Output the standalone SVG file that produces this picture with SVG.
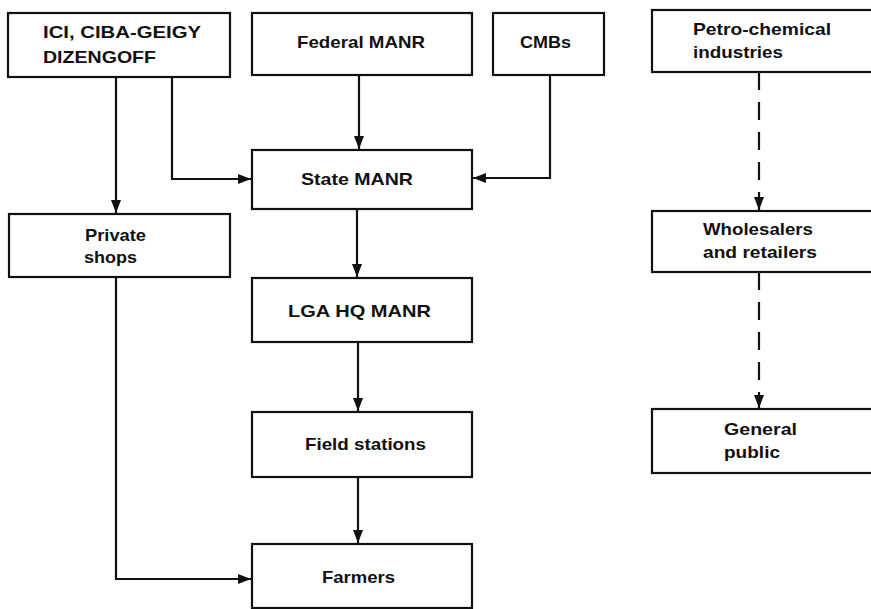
<svg xmlns="http://www.w3.org/2000/svg" width="871" height="609" viewBox="0 0 871 609">
  <style>
    .box { fill: #ffffff; stroke: #111111; stroke-width: 2.2; }
    .lbl { font-family: "Liberation Sans", Arial, sans-serif; font-size: 17px; font-weight: bold; fill: #111111; }
    .flow { fill: none; stroke: #111111; stroke-width: 2.2; }
    .dash { stroke-dasharray: 18 12; }
  </style>
  <defs>
    <marker id="arrow" viewBox="0 0 13 10" refX="13" refY="5" markerWidth="13" markerHeight="10" markerUnits="userSpaceOnUse" orient="auto">
      <path d="M0,0 L13,5 L0,10 Z" fill="#111111"/>
    </marker>
  </defs>
  <rect width="871" height="609" fill="#ffffff"/>

  <g id="connectors">
    <path class="flow" d="M116,77 V213" marker-end="url(#arrow)"/>
    <path class="flow" d="M172,77 V179 H251" marker-end="url(#arrow)"/>
    <path class="flow" d="M359,75 V149" marker-end="url(#arrow)"/>
    <path class="flow" d="M550,75 V178 H473" marker-end="url(#arrow)"/>
    <path class="flow" d="M357,209 V277" marker-end="url(#arrow)"/>
    <path class="flow" d="M358,342 V411" marker-end="url(#arrow)"/>
    <path class="flow" d="M358,477 V543" marker-end="url(#arrow)"/>
    <path class="flow" d="M116,277 V579 H251" marker-end="url(#arrow)"/>
    <path class="flow dash" d="M759,72 V210" marker-end="url(#arrow)"/>
    <path class="flow dash" d="M759,272 V408" marker-end="url(#arrow)"/>
  </g>

  <g id="node-ici">
    <rect class="box" x="8" y="13" width="222" height="64"/>
    <text class="lbl" x="43" y="38" textLength="158" lengthAdjust="spacingAndGlyphs">ICI, CIBA-GEIGY</text>
    <text class="lbl" x="43" y="63" textLength="113" lengthAdjust="spacingAndGlyphs">DIZENGOFF</text>
  </g>

  <g id="node-federal">
    <rect class="box" x="252" y="13" width="220" height="62"/>
    <text class="lbl" x="297" y="48" textLength="128" lengthAdjust="spacingAndGlyphs">Federal MANR</text>
  </g>

  <g id="node-cmbs">
    <rect class="box" x="493" y="13" width="111" height="62"/>
    <text class="lbl" x="520" y="48" textLength="51" lengthAdjust="spacingAndGlyphs">CMBs</text>
  </g>

  <g id="node-petro">
    <rect class="box" x="652" y="10" width="230" height="62"/>
    <text class="lbl" x="693" y="35" textLength="138" lengthAdjust="spacingAndGlyphs">Petro-chemical</text>
    <text class="lbl" x="693" y="58" textLength="90" lengthAdjust="spacingAndGlyphs">industries</text>
  </g>

  <g id="node-state">
    <rect class="box" x="252" y="150" width="220" height="59"/>
    <text class="lbl" x="301" y="185" textLength="112" lengthAdjust="spacingAndGlyphs">State MANR</text>
  </g>

  <g id="node-private">
    <rect class="box" x="9" y="214" width="221" height="63"/>
    <text class="lbl" x="85" y="241" textLength="61" lengthAdjust="spacingAndGlyphs">Private</text>
    <text class="lbl" x="84" y="263" textLength="53" lengthAdjust="spacingAndGlyphs">shops</text>
  </g>

  <g id="node-wholesalers">
    <rect class="box" x="652" y="211" width="230" height="61"/>
    <text class="lbl" x="703" y="235" textLength="110" lengthAdjust="spacingAndGlyphs">Wholesalers</text>
    <text class="lbl" x="703" y="258" textLength="114" lengthAdjust="spacingAndGlyphs">and retailers</text>
  </g>

  <g id="node-lga">
    <rect class="box" x="252" y="278" width="220" height="64"/>
    <text class="lbl" x="288" y="317" textLength="143" lengthAdjust="spacingAndGlyphs">LGA HQ MANR</text>
  </g>

  <g id="node-general">
    <rect class="box" x="652" y="409" width="230" height="64"/>
    <text class="lbl" x="724" y="435" textLength="73" lengthAdjust="spacingAndGlyphs">General</text>
    <text class="lbl" x="724" y="458" textLength="56" lengthAdjust="spacingAndGlyphs">public</text>
  </g>

  <g id="node-field">
    <rect class="box" x="252" y="412" width="220" height="65"/>
    <text class="lbl" x="305" y="450" textLength="121" lengthAdjust="spacingAndGlyphs">Field stations</text>
  </g>

  <g id="node-farmers">
    <rect class="box" x="252" y="544" width="220" height="64"/>
    <text class="lbl" x="322" y="583" textLength="73" lengthAdjust="spacingAndGlyphs">Farmers</text>
  </g>
</svg>
